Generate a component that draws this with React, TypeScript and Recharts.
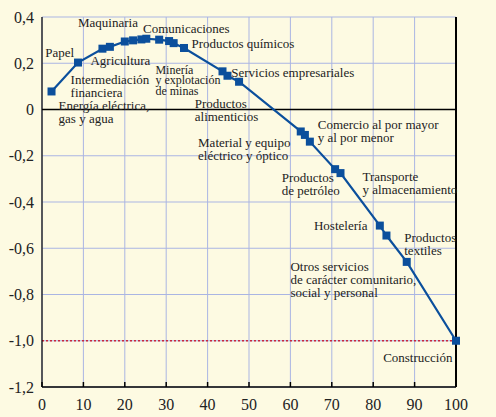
import { CartesianGrid, Line, LineChart, ReferenceDot, ReferenceLine, XAxis, YAxis } from "recharts";

// cumulative share (x) and index value (y) for each sector
const cumShare = [2.3, 8.7, 14.6, 16.4, 20.0, 22.0, 24.0, 25.2, 28.3, 30.7, 31.8, 34.3, 43.6, 44.8, 47.6, 62.5, 63.5, 64.7, 70.8, 72.1, 81.6, 83.2, 88.1, 100];
const indexValue = [0.078, 0.203, 0.263, 0.271, 0.294, 0.299, 0.303, 0.306, 0.302, 0.296, 0.287, 0.266, 0.165, 0.146, 0.12, -0.095, -0.11, -0.139, -0.258, -0.275, -0.502, -0.545, -0.659, -1.0];

const xTicks = [0, 10, 20, 30, 40, 50, 60, 70, 80, 90, 100];
const yTicks = [-1.2, -1.0, -0.8, -0.6, -0.4, -0.2, 0, 0.2, 0.4];

// sector labels, anchored in data units (left edge, first baseline)
const sectorLabels = [
  { lines: ["Papel"], x: 0.8, y: 0.228 },
  { lines: ["Maquinaria"], x: 8.7, y: 0.358 },
  { lines: ["Comunicaciones"], x: 24.4, y: 0.332 },
  { lines: ["Productos químicos"], x: 36.1, y: 0.267 },
  { lines: ["Agricultura"], x: 11.7, y: 0.193 },
  { lines: ["Intermediación", "financiera"], x: 6.9, y: 0.11 },
  { lines: ["Energía eléctrica,", "gas y agua"], x: 4.0, y: -0.003 },
  { lines: ["Minería", "y explotación", "de minas"], x: 27.4, y: 0.155, compact: true },
  { lines: ["Servicios empresariales"], x: 45.7, y: 0.142 },
  { lines: ["Productos", "alimenticios"], x: 36.9, y: 0.007 },
  { lines: ["Material y equipo", "eléctrico y óptico"], x: 37.7, y: -0.164 },
  { lines: ["Comercio al por mayor", "y al por menor"], x: 66.6, y: -0.086 },
  { lines: ["Productos", "de petróleo"], x: 57.9, y: -0.313 },
  { lines: ["Transporte", "y almacenamiento"], x: 77.4, y: -0.309 },
  { lines: ["Hostelería"], x: 65.7, y: -0.521 },
  { lines: ["Productos", "textiles"], x: 87.5, y: -0.573 },
  { lines: ["Otros servicios", "de carácter comunitario,", "social y personal"], x: 60.0, y: -0.698 },
  { lines: ["Construcción"], x: 82.4, y: -1.094 },
];

const data = cumShare.map((x, i) => ({ x, v: indexValue[i] }));

const BG = "#fdfae2";
const BLUE = "#0b4f9c";
const FONT = "'Liberation Serif', 'Times New Roman', serif";

const fmtY = (v: number) => (v === 0 ? "0" : v.toFixed(1).replace(".", ","));

function XTick({ x, y, payload }: any) {
  return (
    <g>
      <line x1={x} x2={x} y1={y} y2={y - 5} stroke="#000" strokeWidth={1.5} />
      <text x={x} y={y + 23} textAnchor="middle" fontFamily={FONT} fontSize={16} fill="#222">
        {payload.value}
      </text>
    </g>
  );
}

function SectorText({ cx, cy, lines, compact }: any) {
  const lh = compact ? 10.5 : 13;
  return (
    <text x={cx} y={cy} fontFamily={FONT} fontSize={compact ? 12 : 13} fill="#222">
      {lines.map((t: string, i: number) => (
        <tspan key={i} x={cx} dy={i === 0 ? 0 : lh}>
          {t}
        </tspan>
      ))}
    </text>
  );
}

export default function App() {
  const yTickStyle = { fontFamily: FONT, fontSize: 16, fill: "#222" };
  return (
    <div style={{ position: "absolute", left: 0, top: 0, width: 496, height: 417, background: BG }}>
      <LineChart width={496} height={417} data={data} margin={{ top: 17, right: 0, bottom: 0, left: 0 }}>
        <CartesianGrid stroke="#aab5e3" strokeWidth={1} horizontalValues={yTicks} verticalValues={xTicks} />
        <XAxis
          type="number"
          dataKey="x"
          domain={[0, 100]}
          ticks={xTicks}
          height={30}
          tickSize={0}
          tickMargin={0}
          tickLine={false}
          axisLine={{ stroke: "#000", strokeWidth: 1.5 }}
          tick={<XTick />}
          interval={0}
        />
        <YAxis
          type="number"
          domain={[-1.2, 0.4]}
          ticks={yTicks}
          width={42}
          tickLine={false}
          tickSize={6}
          tickMargin={2}
          axisLine={{ stroke: "#000", strokeWidth: 1.2 }}
          tick={yTickStyle}
          tickFormatter={fmtY}
          interval={0}
        />
        <YAxis
          yAxisId="right"
          orientation="right"
          type="number"
          domain={[-1.2, 0.4]}
          ticks={yTicks}
          width={40}
          tickLine={false}
          tickSize={6}
          tickMargin={2}
          axisLine={{ stroke: "#000", strokeWidth: 2 }}
          tick={yTickStyle}
          tickFormatter={fmtY}
          interval={0}
        />
        <ReferenceLine y={0} stroke="#000" strokeWidth={1.6} />
        <ReferenceLine y={-1} stroke="#c8283c" strokeWidth={1.5} strokeDasharray="2 2" />
        {sectorLabels.map((s, i) => (
          <ReferenceDot
            key={i}
            x={s.x}
            y={s.y}
            r={0}
            ifOverflow="visible"
            shape={(p: any) => <SectorText cx={p.cx} cy={p.cy} lines={s.lines} compact={s.compact} />}
          />
        ))}
        <Line
          type="linear"
          dataKey="v"
          stroke={BLUE}
          strokeWidth={2.2}
          isAnimationActive={false}
          dot={(p: any) => <rect key={p.index} x={p.cx - 4} y={p.cy - 4} width={8} height={8} fill={BLUE} />}
          activeDot={false}
        />
      </LineChart>
    </div>
  );
}
